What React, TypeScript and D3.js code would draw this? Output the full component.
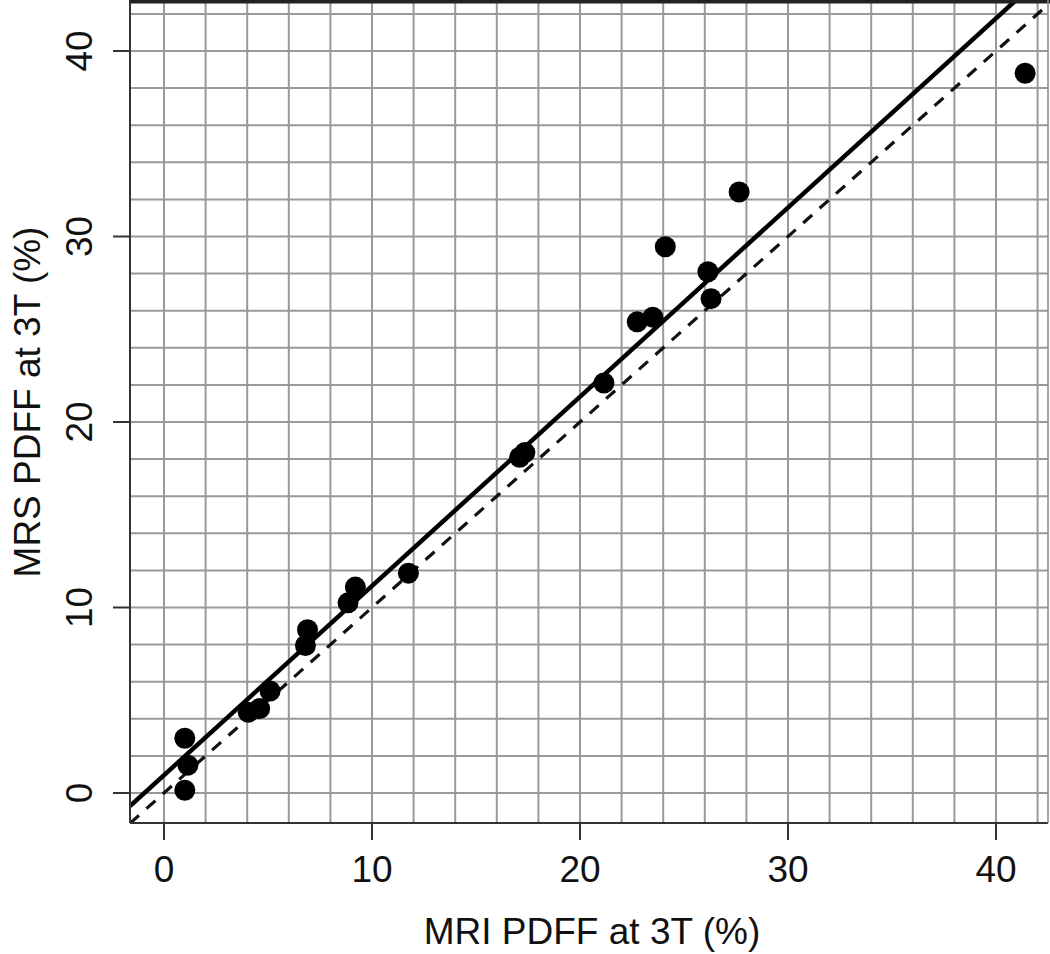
import React from 'react'
import * as d3 from 'd3'

// MRI vs MRS proton density fat fraction at 3T
const mriPdff = [1.0, 1.15, 1.0, 4.05, 4.6, 5.1, 6.8, 6.9, 8.85, 9.2, 11.75, 17.1, 17.35, 21.15, 22.75, 23.5, 24.1, 26.15, 26.3, 27.65, 41.4]
const mrsPdff = [0.15, 1.5, 2.95, 4.35, 4.55, 5.5, 7.95, 8.8, 10.25, 11.1, 11.85, 18.1, 18.35, 22.1, 25.4, 25.65, 29.45, 28.1, 26.65, 32.4, 38.8]

const tickValues = [0, 10, 20, 30, 40]
const gridValues = d3.range(0, 43, 2)

// fitted line and identity line
const fitIntercept = 0.96
const fitSlope = 1.02

const width = 1050
const height = 954
const left = 130
const right = 1048
const top = 2
const bottom = 823

const font = '"Liberation Sans", Arial, Helvetica, sans-serif'

export default function App() {
    const x = d3.scaleLinear().domain([0, 40]).range([164, 996])
    const y = d3.scaleLinear().domain([0, 40]).range([793, 51])

    const xMin = x.invert(left)
    const xMax = x.invert(right)

    const line = d3
        .line<[number, number]>()
        .x((d) => x(d[0]))
        .y((d) => y(d[1]))

    const fit: [number, number][] = [
        [xMin, fitIntercept + fitSlope * xMin],
        [xMax, fitIntercept + fitSlope * xMax]
    ]
    const identity: [number, number][] = [
        [xMin, xMin],
        [xMax, xMax]
    ]

    const points = mriPdff.map((v, i) => [v, mrsPdff[i]])

    return (
        <svg
            width={width}
            height={height}
            style={{ position: 'absolute', left: 0, top: 0, background: '#fff' }}
            fontFamily={font}
        >
            <defs>
                <clipPath id="plot">
                    <rect x={left} y={top} width={right - left} height={bottom - top} />
                </clipPath>
            </defs>

            <g stroke="#999" strokeWidth={2}>
                {gridValues.map((v) => (
                    <line key={'gx' + v} x1={x(v)} x2={x(v)} y1={top} y2={bottom} />
                ))}
                {gridValues.map((v) => (
                    <line key={'gy' + v} x1={left} x2={right} y1={y(v)} y2={y(v)} />
                ))}
            </g>

            <g clipPath="url(#plot)" fill="none">
                <path d={line(identity) || ''} stroke="#111" strokeWidth={3.2} strokeDasharray="12 10" />
                <path d={line(fit) || ''} stroke="#000" strokeWidth={4.5} />
            </g>

            <g fill="#000">
                {points.map((d, i) => (
                    <circle key={i} cx={x(d[0])} cy={y(d[1])} r={10.5} />
                ))}
            </g>

            {/* frame */}
            <line x1={left} x2={left} y1={0} y2={bottom} stroke="#333" strokeWidth={2} />
            <line x1={left} x2={right} y1={bottom} y2={bottom} stroke="#333" strokeWidth={2} />
            <line x1={left} x2={width} y1={1.5} y2={1.5} stroke="#222" strokeWidth={4} />
            <line x1={right} x2={right} y1={0} y2={bottom} stroke="#888" strokeWidth={1.5} />

            {/* x axis */}
            <g>
                {tickValues.map((v) => (
                    <g key={'xt' + v}>
                        <line x1={x(v)} x2={x(v)} y1={bottom} y2={bottom + 17} stroke="#333" strokeWidth={2} />
                        <text x={x(v)} y={882} textAnchor="middle" fontSize={37} fill="#111">
                            {v}
                        </text>
                    </g>
                ))}
                <text x={592} y={944} textAnchor="middle" fontSize={37} fill="#111">
                    MRI PDFF at 3T (%)
                </text>
            </g>

            {/* y axis */}
            <g>
                {tickValues.map((v) => (
                    <g key={'yt' + v}>
                        <line x1={left - 17} x2={left} y1={y(v)} y2={y(v)} stroke="#333" strokeWidth={2} />
                        <text
                            transform={`translate(92,${y(v)}) rotate(-90)`}
                            textAnchor="middle"
                            fontSize={37}
                            fill="#111"
                        >
                            {v}
                        </text>
                    </g>
                ))}
                <text
                    transform={`translate(40,402) rotate(-90)`}
                    textAnchor="middle"
                    fontSize={37}
                    fill="#111"
                >
                    MRS PDFF at 3T (%)
                </text>
            </g>
        </svg>
    )
}
